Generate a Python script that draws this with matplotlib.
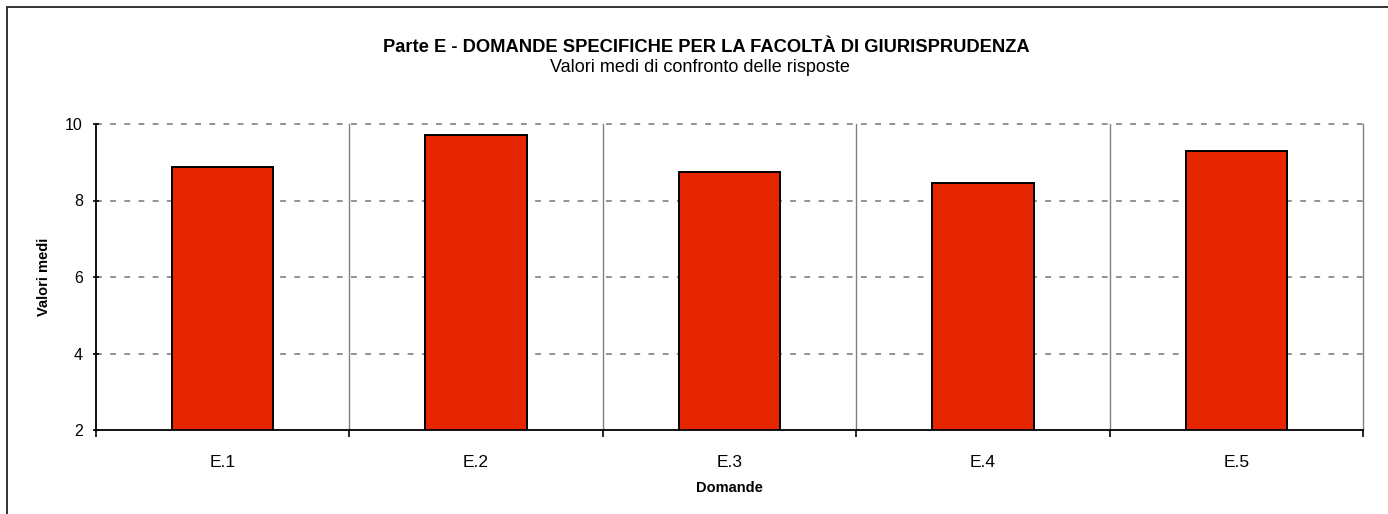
import matplotlib
matplotlib.use("Agg")
import matplotlib.pyplot as plt
from matplotlib.patches import Rectangle
import numpy as np

plt.rcParams['font.family'] = ['Liberation Sans', 'DejaVu Sans']

categories = ["E.1", "E.2", "E.3", "E.4", "E.5"]
values = [8.88, 9.71, 8.75, 8.46, 9.30]
yticks = [2, 4, 6, 8, 10]

title = "Parte E - DOMANDE SPECIFICHE PER LA FACOLTÀ DI GIURISPRUDENZA"
subtitle = "Valori medi di confronto delle risposte"

W, H = 1388, 514
fig = plt.figure(figsize=(W / 100, H / 100), dpi=100)
fig.patch.set_facecolor('white')

# outer frame (left/top visible)
fig.add_artist(Rectangle((7 / W, -0.1), 1.2, (H - 7) / H + 0.1, transform=fig.transFigure,
                         fill=False, edgecolor='#333333', linewidth=1.4))

ax_l, ax_r, ax_t, ax_b = 96, 1363, 124, 430
ax = fig.add_axes([ax_l / W, 1 - ax_b / H, (ax_r - ax_l) / W, (ax_b - ax_t) / H])

x = np.arange(len(categories))
ax.bar(x, values, width=0.4, color='#E52600', edgecolor='black', linewidth=1.4, zorder=3)

ax.set_xlim(-0.5, len(categories) - 0.5)
ax.set_ylim(2, 10)
ax.set_yticks(yticks)
ax.set_xticks(x)
ax.set_xticklabels(categories, fontsize=12.5)
bounds = np.arange(len(categories) + 1) - 0.5
ax.set_xticks(bounds, minor=True)

ax.tick_params(axis='x', which='major', length=0, pad=18)
ax.tick_params(axis='x', which='minor', length=5, width=1.2, direction='out', color='black')
ax.tick_params(axis='y', which='major', length=5, width=1.2, direction='inout', labelsize=11.5, pad=7)

# gridlines drawn unclipped so the edge ones stay full width
for yv in yticks[1:]:
    ax.axhline(yv, color='#808080', linestyle=(0, (3.5, 5)), linewidth=1.2, zorder=0, clip_on=False)
for xv in bounds[1:]:
    ax.axvline(xv, color='#808080', linestyle='-', linewidth=1.0, zorder=0, clip_on=False)

for s in ['top', 'right']:
    ax.spines[s].set_visible(False)
ax.spines['left'].set_linewidth(1.3)
ax.spines['bottom'].set_linewidth(1.3)
ax.spines['left'].set_zorder(4)
ax.spines['bottom'].set_zorder(4)

ax.set_xlabel("Domande", fontsize=10.5, fontweight='bold', labelpad=8)
ax.set_ylabel("Valori medi", fontsize=10.5, fontweight='bold', labelpad=10)

fig.text(706 / W, 1 - 48 / H, title, ha='center', va='center',
         fontsize=13.2, fontweight='bold')
fig.text(700 / W, 1 - 67 / H, subtitle, ha='center', va='center',
         fontsize=13)

fig.savefig("out.png", dpi=100)
